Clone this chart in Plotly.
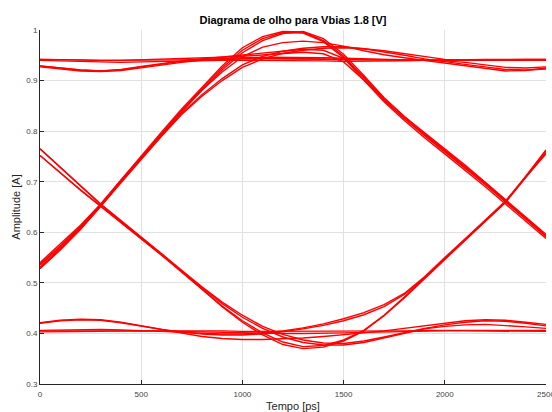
import plotly.graph_objects as go

# Time axis of the eye window [ps]
t_ps = [0, 100, 200, 300, 400, 500, 600, 700, 800, 900, 1000, 1100, 1200,
        1300, 1400, 1500, 1600, 1700, 1800, 1900, 2000, 2100, 2200, 2300, 2400, 2500]

# Amplitude [A] of each folded waveform segment
r010_a = [0.540, 0.576, 0.614, 0.656, 0.704, 0.751, 0.798, 0.844, 0.887, 0.929, 0.965, 0.987, 0.997,
          0.996, 0.979, 0.948, 0.905, 0.862, 0.825, 0.791, 0.759, 0.727, 0.694, 0.660, 0.626, 0.592]
r010_b = [0.535, 0.571, 0.610, 0.653, 0.701, 0.748, 0.795, 0.841, 0.884, 0.925, 0.960, 0.983, 0.995,
          0.994, 0.977, 0.945, 0.901, 0.858, 0.821, 0.787, 0.755, 0.723, 0.690, 0.656, 0.622, 0.588]
r010_c = [0.530, 0.566, 0.606, 0.651, 0.699, 0.746, 0.792, 0.838, 0.881, 0.921, 0.955, 0.979, 0.993,
          0.997, 0.983, 0.952, 0.910, 0.866, 0.829, 0.795, 0.763, 0.731, 0.698, 0.663, 0.628, 0.594]
r011_fast = [0.537, 0.573, 0.612, 0.655, 0.703, 0.749, 0.796, 0.841, 0.881, 0.917, 0.947, 0.966, 0.975,
             0.978, 0.975, 0.968, 0.959, 0.951, 0.945, 0.940, 0.935, 0.930, 0.924, 0.919, 0.920, 0.925]
r011_slow_a = [0.528, 0.565, 0.606, 0.652, 0.700, 0.745, 0.790, 0.833, 0.869, 0.900, 0.926, 0.943, 0.954,
               0.960, 0.964, 0.965, 0.963, 0.959, 0.953, 0.947, 0.942, 0.940, 0.940, 0.941, 0.942, 0.942]
r011_slow_b = [0.531, 0.568, 0.609, 0.654, 0.702, 0.747, 0.792, 0.835, 0.872, 0.904, 0.931, 0.948, 0.958,
               0.964, 0.967, 0.967, 0.963, 0.957, 0.950, 0.943, 0.937, 0.932, 0.927, 0.922, 0.921, 0.923]
h110_a = [0.942, 0.941, 0.940, 0.940, 0.940, 0.941, 0.942, 0.943, 0.944, 0.946, 0.948, 0.951, 0.954,
          0.956, 0.953, 0.937, 0.901, 0.860, 0.825, 0.793, 0.761, 0.729, 0.696, 0.661, 0.627, 0.591]
h110_b = [0.929, 0.925, 0.921, 0.919, 0.922, 0.928, 0.934, 0.939, 0.943, 0.947, 0.951, 0.955, 0.959,
          0.962, 0.960, 0.944, 0.907, 0.865, 0.829, 0.797, 0.765, 0.733, 0.699, 0.664, 0.630, 0.596]
hh_flat_a = [0.942, 0.942, 0.941, 0.940, 0.940, 0.940, 0.940, 0.941, 0.942, 0.943, 0.943, 0.944, 0.944,
             0.944, 0.943, 0.942, 0.941, 0.941, 0.940, 0.940, 0.941, 0.941, 0.942, 0.942, 0.942, 0.942]
hh_flat_b = [0.940, 0.939, 0.937, 0.936, 0.936, 0.937, 0.938, 0.939, 0.940, 0.940, 0.940, 0.940, 0.940,
             0.939, 0.939, 0.938, 0.938, 0.938, 0.939, 0.940, 0.940, 0.941, 0.941, 0.941, 0.941, 0.940]
hh_dip_a = [0.929, 0.925, 0.921, 0.919, 0.921, 0.927, 0.933, 0.938, 0.942, 0.944, 0.945, 0.946, 0.946,
            0.946, 0.945, 0.944, 0.943, 0.942, 0.941, 0.940, 0.939, 0.936, 0.931, 0.926, 0.925, 0.927]
hh_dip_b = [0.927, 0.923, 0.919, 0.918, 0.920, 0.925, 0.931, 0.936, 0.940, 0.942, 0.943, 0.943, 0.943,
            0.943, 0.942, 0.941, 0.941, 0.940, 0.940, 0.940, 0.940, 0.940, 0.941, 0.941, 0.941, 0.941]
f101_a = [0.765, 0.728, 0.691, 0.655, 0.622, 0.590, 0.557, 0.523, 0.488, 0.453, 0.422, 0.397, 0.378,
          0.370, 0.373, 0.385, 0.405, 0.435, 0.470, 0.508, 0.547, 0.585, 0.622, 0.660, 0.710, 0.761]
f101_b = [0.752, 0.718, 0.684, 0.652, 0.620, 0.588, 0.555, 0.521, 0.487, 0.454, 0.425, 0.401, 0.383,
          0.374, 0.376, 0.387, 0.406, 0.436, 0.472, 0.510, 0.549, 0.587, 0.624, 0.662, 0.709, 0.755]
f100_a = [0.765, 0.729, 0.692, 0.656, 0.623, 0.591, 0.558, 0.525, 0.492, 0.462, 0.436, 0.414, 0.398,
          0.387, 0.381, 0.380, 0.385, 0.393, 0.402, 0.410, 0.417, 0.422, 0.425, 0.424, 0.420, 0.415]
f100_b = [0.752, 0.717, 0.683, 0.651, 0.619, 0.587, 0.555, 0.522, 0.490, 0.459, 0.432, 0.410, 0.393,
          0.382, 0.377, 0.377, 0.382, 0.391, 0.401, 0.409, 0.414, 0.417, 0.418, 0.416, 0.413, 0.410]
l001_a = [0.420, 0.425, 0.427, 0.426, 0.421, 0.414, 0.408, 0.403, 0.399, 0.397, 0.397, 0.399, 0.403,
          0.409, 0.416, 0.425, 0.437, 0.453, 0.477, 0.510, 0.547, 0.584, 0.621, 0.659, 0.708, 0.758]
l001_b = [0.406, 0.407, 0.408, 0.408, 0.407, 0.406, 0.404, 0.402, 0.400, 0.399, 0.399, 0.401, 0.405,
          0.411, 0.419, 0.429, 0.441, 0.457, 0.479, 0.512, 0.550, 0.587, 0.624, 0.661, 0.711, 0.763]
ll_flat_a = [0.405, 0.405, 0.405, 0.405, 0.406, 0.406, 0.406, 0.406, 0.405, 0.405, 0.404, 0.404, 0.404,
             0.404, 0.404, 0.404, 0.405, 0.405, 0.405, 0.406, 0.406, 0.407, 0.407, 0.407, 0.407, 0.406]
ll_flat_b = [0.403, 0.403, 0.404, 0.404, 0.405, 0.405, 0.405, 0.404, 0.403, 0.402, 0.401, 0.400, 0.400,
             0.400, 0.400, 0.401, 0.402, 0.403, 0.404, 0.405, 0.405, 0.405, 0.405, 0.404, 0.404, 0.404]
ll_arch = [0.421, 0.426, 0.428, 0.427, 0.422, 0.415, 0.407, 0.400, 0.394, 0.390, 0.388, 0.388, 0.389,
           0.391, 0.394, 0.397, 0.401, 0.405, 0.410, 0.416, 0.421, 0.425, 0.427, 0.426, 0.422, 0.418]

x_ticks = [0, 500, 1000, 1500, 2000, 2500]
y_ticks = [0.3, 0.4, 0.5, 0.6, 0.7, 0.8, 0.9, 1.0]
y_tick_text = ["0.3", "0.4", "0.5", "0.6", "0.7", "0.8", "0.9", "1"]

segments = [r010_a, r010_b, r010_c, r011_fast, r011_slow_a, r011_slow_b, h110_a, h110_b,
            hh_flat_a, hh_flat_b, hh_dip_a, hh_dip_b, f101_a, f101_b, f100_a, f100_b,
            l001_a, l001_b, ll_flat_a, ll_flat_b, ll_arch]

fig = go.Figure()
for seg in segments:
    fig.add_trace(go.Scatter(x=t_ps, y=seg, mode="lines",
                             line=dict(color="#ff0000", width=1.4),
                             hoverinfo="skip"))

font_family = "Liberation Sans, Arial, Helvetica, sans-serif"
axis_col = "#262626"
grid_col = "#e1e1e1"

fig.update_layout(
    width=552, height=412,
    margin=dict(l=40, r=6, t=30, b=28),
    paper_bgcolor="white", plot_bgcolor="white",
    showlegend=False,
    font=dict(family=font_family, color=axis_col),
    title=dict(text="<b>Diagrama de olho para Vbias 1.8 [V]</b>",
               x=0.5, xref="paper", xanchor="center",
               y=1 - 20 / 412, yref="container", yanchor="middle",
               font=dict(size=11, color="#000000", family=font_family)),
)

fig.update_xaxes(
    range=[0, 2500], tickvals=x_ticks, ticks="inside", ticklen=4, tickwidth=1,
    tickcolor=axis_col, tickfont=dict(size=8, color="#444444"),
    ticklabeloverflow="allow", ticklabelstandoff=2, automargin=False,
    showline=True, linecolor=axis_col, linewidth=1,
    showgrid=True, gridcolor=grid_col, gridwidth=1, zeroline=False,
    title=dict(text="Tempo [ps]", font=dict(size=11, color=axis_col), standoff=6),
)
fig.update_yaxes(
    range=[0.3, 1.0], tickvals=y_ticks, ticktext=y_tick_text, ticks="inside", ticklen=4,
    tickwidth=1, tickcolor=axis_col, tickfont=dict(size=8, color="#444444"),
    automargin=False,
    showline=True, linecolor=axis_col, linewidth=1,
    showgrid=True, gridcolor=grid_col, gridwidth=1, zeroline=False,
    title=dict(text="Amplitude [A]", font=dict(size=11, color=axis_col), standoff=3),
)

fig.write_html("out.html")
